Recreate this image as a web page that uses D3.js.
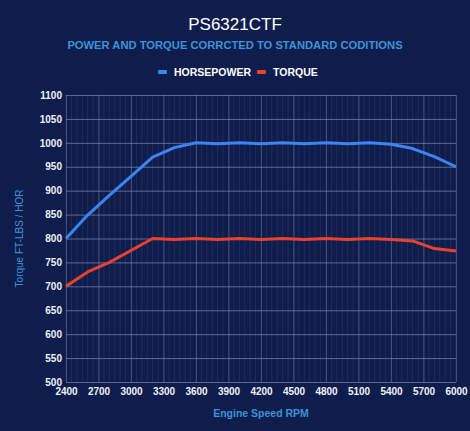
<!DOCTYPE html>
<html>
<head>
<meta charset="utf-8">
<script src="https://cdn.jsdelivr.net/npm/d3@7"></script>
<style>
  html, body { margin: 0; padding: 0; background: #0f1d4d; }
  svg { display: block; font-family: "Liberation Sans", Arial, sans-serif; }
</style>
</head>
<body>
<svg id="chart" width="470" height="431"></svg>
<script>
const rpm = [2400, 2600, 2800, 3000, 3200, 3400, 3600, 3800, 4000, 4200, 4400, 4600, 4800, 5000, 5200, 5400, 5600, 5800, 6000];
const horsepower = [800, 849, 890, 930, 970, 990, 1000, 998, 1000, 998, 1000, 998, 1000, 998, 1000, 997, 988, 971, 950];
const torque = [700, 730, 750, 775, 800, 798, 800, 798, 800, 798, 800, 798, 800, 798, 800, 798, 795, 779, 774];
const xTicks = [2400, 2700, 3000, 3300, 3600, 3900, 4200, 4500, 4800, 5100, 5400, 5700, 6000];
const yTicks = [500, 550, 600, 650, 700, 750, 800, 850, 900, 950, 1000, 1050, 1100];
const seriesNames = ["HORSEPOWER", "TORQUE"];
const seriesColors = ["#3d84f0", "#e8412f"];

const svg = d3.select("#chart");
const W = 470, H = 431;
const margin = {top: 95, right: 14, bottom: 49, left: 66};

svg.append("rect").attr("width", W).attr("height", H).attr("fill", "#0f1d4d");

const x = d3.scaleLinear().domain([2400, 6000]).range([margin.left, W - margin.right]);
const y = d3.scaleLinear().domain([500, 1100]).range([H - margin.bottom, margin.top]);

// minor vertical grid
const minor = d3.range(2400, 6001, 50);
svg.append("g")
  .selectAll("line").data(minor).join("line")
  .attr("x1", d => x(d)).attr("x2", d => x(d))
  .attr("y1", y(1100)).attr("y2", y(500))
  .attr("stroke", "#ffffff").attr("stroke-opacity", 0.07).attr("stroke-width", 1);

// major grid
svg.append("g").attr("stroke", "#8f9bc4").attr("stroke-opacity", 0.6)
  .selectAll("line").data(yTicks).join("line")
  .attr("x1", x(2400)).attr("x2", x(6000))
  .attr("y1", d => y(d) + 0.5).attr("y2", d => y(d) + 0.5);
svg.append("g").attr("stroke", "#8f9bc4").attr("stroke-opacity", 0.35)
  .selectAll("line").data(xTicks).join("line")
  .attr("x1", d => x(d) + 0.5).attr("x2", d => x(d) + 0.5)
  .attr("y1", y(1100)).attr("y2", y(500));

// axes
const yAxis = svg.append("g")
  .attr("transform", `translate(${margin.left},0)`)
  .call(d3.axisLeft(y).tickValues(yTicks).tickSize(0).tickPadding(4).tickFormat(d3.format("d")));
yAxis.select(".domain").remove();
yAxis.selectAll("text").attr("fill", "#eef1fa").attr("font-size", 10).attr("font-weight", "bold");

const xAxis = svg.append("g")
  .attr("transform", `translate(0,${H - margin.bottom})`)
  .call(d3.axisBottom(x).tickValues(xTicks).tickSize(0).tickPadding(6).tickFormat(d3.format("d")));
xAxis.select(".domain").remove();
xAxis.selectAll("text").attr("fill", "#eef1fa").attr("font-size", 10).attr("font-weight", "bold");

// lines
const line = d3.line().x((d, i) => x(rpm[i])).y(d => y(d));
[horsepower, torque].forEach((s, k) => {
  svg.append("path").datum(s)
    .attr("fill", "none")
    .attr("stroke", seriesColors[k])
    .attr("stroke-width", 3)
    .attr("stroke-linejoin", "round")
    .attr("d", line);
});

// titles
svg.append("text").attr("x", W / 2).attr("y", 30).attr("text-anchor", "middle")
  .attr("fill", "#ffffff").attr("font-size", 17).text("PS6321CTF");
svg.append("text").attr("x", W / 2).attr("y", 49).attr("text-anchor", "middle")
  .attr("fill", "#3d93d6").attr("font-size", 11.2).attr("font-weight", "bold")
  .text("POWER AND TORQUE CORRCTED TO STANDARD CODITIONS");

// legend
const legendX = [158, 257];
seriesNames.forEach((n, k) => {
  svg.append("rect").attr("x", legendX[k]).attr("y", 70).attr("width", 9).attr("height", 4)
    .attr("rx", 1).attr("fill", seriesColors[k]);
  svg.append("text").attr("x", legendX[k] + 16).attr("y", 75.5)
    .attr("fill", "#ffffff").attr("font-size", 10.5).attr("font-weight", "bold").text(n);
});

// axis titles
svg.append("text").attr("x", (x(2400) + x(6000)) / 2).attr("y", 417).attr("text-anchor", "middle")
  .attr("fill", "#3d93d6").attr("font-size", 10.5).attr("font-weight", "bold").text("Engine Speed RPM");
svg.append("text").attr("transform", `translate(23,${(y(500) + y(1100)) / 2}) rotate(-90)`)
  .attr("text-anchor", "middle").attr("fill", "#3d93d6").attr("font-size", 10)
  .text("Torque FT-LBS / HOR");
</script>
</body>
</html>
